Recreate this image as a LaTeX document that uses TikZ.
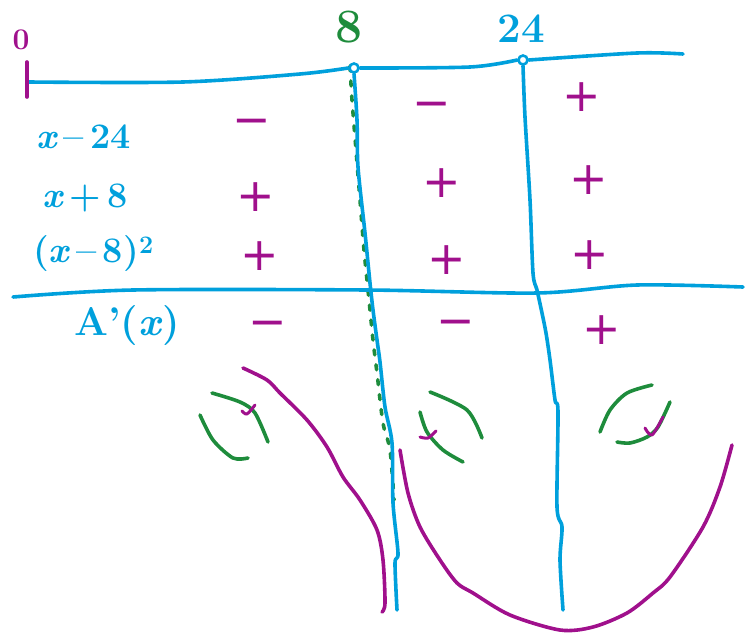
\documentclass[tikz,border=0pt]{standalone}
\usepackage{fontspec}
\setmainfont{Latin Modern Roman}
\newfontfamily\signfont{DejaVu Sans}
\definecolor{pen}{RGB}{0,160,220}
\definecolor{mag}{RGB}{160,16,140}
\definecolor{grn}{RGB}{30,140,60}
\tikzset{
  ink/.style={line width=3.6pt,line cap=round,line join=round},
  blueink/.style={ink,draw=pen},
  magink/.style={ink,draw=mag},
  grnink/.style={ink,draw=grn},
  lbl/.style={text=pen,font=\bfseries\fontsize{36}{40}\selectfont,inner sep=0pt},
  sgn/.style={text=mag,font=\signfont\fontsize{46}{48}\selectfont,inner sep=0pt},
  hole/.style={circle,draw=pen,line width=2.6pt,minimum size=9pt,inner sep=0pt,fill=white}
}
\begin{document}
\begin{tikzpicture}[x=1pt,y=-1pt]
\useasboundingbox (0,0) rectangle (754,632);
% green dotted line at 8
\draw[grnink,dash pattern=on 5pt off 10pt] plot[smooth] coordinates {(350,66) (352,100) (356,150) (360,200) (364,250) (368,290) (373,340) (377,373) (383,423) (390,450) (394,500)};
% top number line
\node[hole] (c8) at (354,68) {};
\node[hole] (c24) at (523,60) {};
\coordinate (tl) at (29,82);
\coordinate (tr) at (683,54);
\draw[blueink] plot[smooth] coordinates {(tl) (183,82) (300,74) (c8.west)};
\draw[blueink] plot[smooth] coordinates {(c8.east) (470,67) (c24.west)};
\draw[blueink] plot[smooth] coordinates {(c24.east) (637,53) (tr)};
% vertical at 8
\coordinate (b8) at (397,610);
\draw[blueink] plot[smooth] coordinates {(c8.south) (357,120) (358,167) (365,233) (370,283) (373,310) (377,340) (380,362) (385,407) (392,443) (393,503) (398,553) (395,563) (b8)};
% vertical at 24
\coordinate (b24) at (563,610);
\draw[blueink] plot[smooth] coordinates {(c24.south) (525,117) (530,200) (533,273) (537,290) (542,313) (546,333) (550,360) (555,400) (558,412) (557,507) (562,527) (560,560) (b24)};
% lower horizontal line
\coordinate (hl) at (13,297);
\coordinate (hr) at (743,287);
\draw[blueink] plot[smooth] coordinates {(hl) (133,290) (367,290) (537,293) (637,285) (hr)};
% origin tick and labels
\coordinate (t0a) at (27,62);
\coordinate (t0b) at (27,97);
\draw[magink] (t0a) -- (t0b);
\node[text=mag,font=\bfseries\fontsize{30}{32}\selectfont,inner sep=0pt] (n0) at (21,40) {0};
\node[text=grn,font=\bfseries\fontsize{48}{50}\selectfont,inner sep=0pt] (n8) at (349,27) {8};
\node[text=pen,font=\bfseries\fontsize{42}{44}\selectfont,inner sep=0pt] (n24) at (521,29) {24};
% row labels
\node[lbl,anchor=west] (r1) at (36,137) {\textit{x}\,–\,24};
\node[lbl,anchor=west] (r2) at (42,198) {\textit{x}\,+\,8};
\node[lbl,anchor=west] (r3) at (33,254) {(\textit{x}\,–\,8)\textsuperscript{2}};
\node[lbl,anchor=west,font=\bfseries\fontsize{40}{44}\selectfont] (r4) at (74,326) {A'(\textit{x})};
% signs
\node[sgn] (s11) at (252,127) {−};
\node[sgn] (s12) at (432,110) {−};
\node[sgn] (s13) at (582,97) {+};
\node[sgn] (s21) at (256,197) {+};
\node[sgn] (s22) at (442,183) {+};
\node[sgn] (s23) at (589,180) {+};
\node[sgn] (s31) at (260,256) {+};
\node[sgn] (s32) at (447,260) {+};
\node[sgn] (s33) at (590,255) {+};
\node[sgn] (s41) at (268,329) {−};
\node[sgn] (s42) at (456,328) {−};
\node[sgn] (s43) at (602,330) {+};
% magenta graph pieces
\draw[magink] plot[smooth] coordinates {(243,368) (267,380) (280,393) (307,420) (327,447) (343,477) (360,500) (377,530) (383,560) (385,603) (382,612)};
\draw[magink] plot[smooth] coordinates {(400,450) (408,493) (420,527) (440,560) (457,583) (473,593) (510,615) (560,630) (593,627) (627,613) (653,593) (670,577) (703,527) (720,487) (732,445)};
% concavity marks
\draw[grnink] plot[smooth] coordinates {(200,415) (213,440) (233,458) (248,458)};
\draw[grnink] plot[smooth] coordinates {(212,393) (240,402) (255,413) (268,442)};
\draw[magink,line width=3pt] plot[smooth] coordinates {(242,411) (247,414) (255,405)};
\draw[grnink] plot[smooth] coordinates {(430,392) (467,410) (482,438)};
\draw[grnink] plot[smooth] coordinates {(420,412) (427,432) (443,450) (463,462)};
\draw[magink,line width=3pt] plot[smooth] coordinates {(420,437) (428,438) (436,431)};
\draw[grnink] plot[smooth] coordinates {(600,432) (610,410) (627,393) (652,385)};
\draw[grnink] plot[smooth] coordinates {(617,442) (630,443) (647,437) (658,427) (670,402)};
\draw[magink,line width=3pt] plot[smooth] coordinates {(645,428) (652,435) (663,417)};
\end{tikzpicture}
\end{document}
